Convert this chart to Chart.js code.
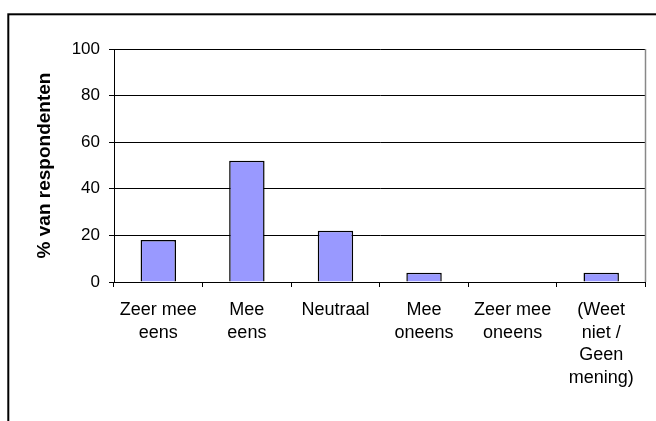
<!DOCTYPE html>
<html>
<head>
<meta charset="utf-8">
<script src="https://cdn.jsdelivr.net/npm/chart.js@4/dist/chart.umd.min.js"></script>
<style>
  body { margin: 0; background: #fff; }
  canvas { display: block; }
</style>
</head>
<body>
<canvas id="barChart" width="656" height="421"></canvas>
<script>
const categories = [
  ['Zeer mee', 'eens'],
  ['Mee', 'eens'],
  'Neutraal',
  ['Mee', 'oneens'],
  ['Zeer mee', 'oneens'],
  ['(Weet', 'niet /', 'Geen', 'mening)']
];
const percentages = [18, 52, 22, 4, 0, 4];
const yTicks = [0, 20, 40, 60, 80, 100];
const yTitle = '% van respondenten';

Chart.defaults.font.family = "'Liberation Sans', Arial, sans-serif";
Chart.defaults.color = '#000';

// outer frame and grey right border of the plot area
const frame = {
  id: 'frame',
  beforeDraw(c) {
    const ctx = c.ctx;
    ctx.save();
    ctx.fillStyle = '#fff';
    ctx.fillRect(0, 0, c.width, c.height);
    ctx.strokeStyle = '#000';
    ctx.lineWidth = 2;
    ctx.strokeRect(8.3, 14.3, 700, 500);
    ctx.restore();
  },
  afterDatasetsDraw(c) {
    const a = c.chartArea;
    const ctx = c.ctx;
    ctx.save();
    ctx.strokeStyle = '#888';
    ctx.lineWidth = 1.5;
    ctx.beginPath();
    ctx.moveTo(a.right, a.top);
    ctx.lineTo(a.right, a.bottom);
    ctx.stroke();
    ctx.restore();
  }
};

const chart = document.getElementById('barChart');

let barChart = new Chart(chart, {
  type: 'bar',
  data: {
    labels: categories,
    datasets: [
      {
        label: yTitle,
        data: percentages,
        backgroundColor: '#9999ff',
        borderColor: '#000',
        borderWidth: 1.5,
        barPercentage: 0.4,
        categoryPercentage: 1.0
      }
    ]
  },
  options: {
    responsive: false,
    devicePixelRatio: 1,
    animation: false,
    layout: { padding: { left: 0, top: 49, right: 10.5, bottom: 0 } },
    plugins: {
      legend: { display: false },
      tooltip: { enabled: false }
    },
    scales: {
      x: {
        grid: {
          offset: true,
          drawOnChartArea: false,
          color: '#000',
          tickLength: 5
        },
        border: { color: '#000', width: 1 },
        ticks: {
          font: { size: 18, lineHeight: 1.25 },
          padding: 12,
          maxRotation: 0,
          autoSkip: false
        },
        afterFit(s) { s.height = 139; }
      },
      y: {
        min: 0,
        max: 100,
        afterBuildTicks(s) { s.ticks = yTicks.map(v => ({ value: v })); },
        grid: { color: '#000', tickLength: 5 },
        border: { color: '#000', width: 1 },
        ticks: { font: { size: 17 }, padding: 9 },
        title: {
          display: true,
          text: yTitle,
          font: { size: 19, weight: 'bold' },
          padding: { top: 33.6 }
        },
        afterFit(s) { s.width = 114; }
      }
    }
  },
  plugins: [frame]
});
</script>
</body>
</html>
